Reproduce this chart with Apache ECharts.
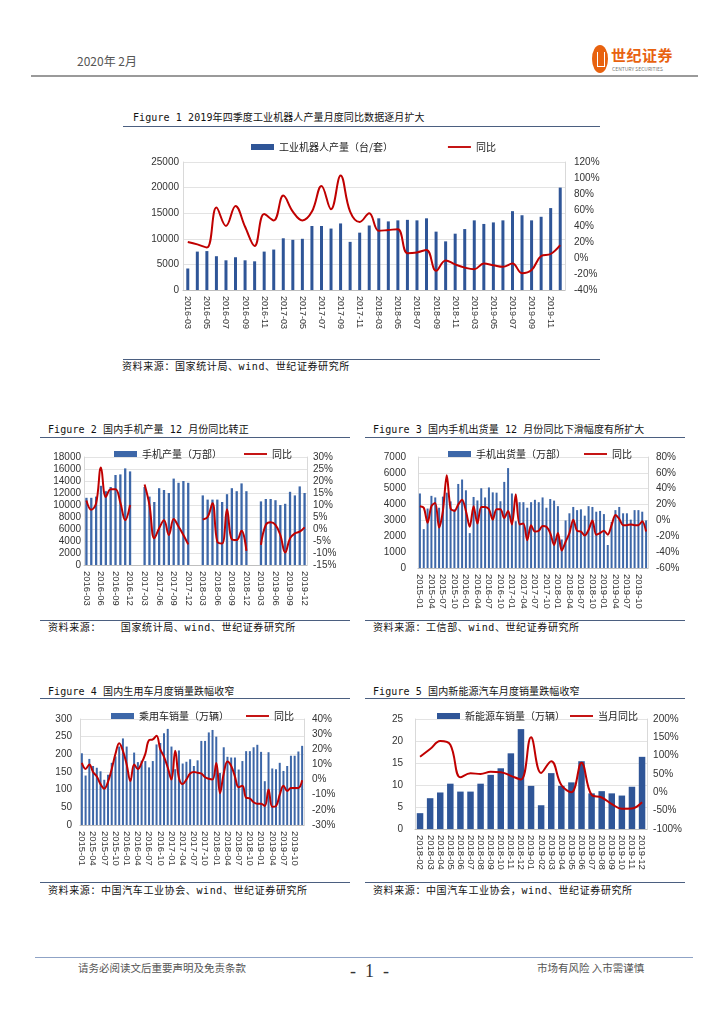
<!DOCTYPE html>
<html><head><meta charset="utf-8">
<script src="https://cdn.jsdelivr.net/npm/echarts@6/dist/echarts.min.js"></script>
<style>
body{margin:0;background:#fff;width:724px;height:1024px;position:relative;overflow:hidden;font-family:"Noto Sans CJK SC",sans-serif;}
.t{position:absolute;white-space:nowrap;line-height:1;}
.ttl{font-family:"DejaVu Sans Mono","Noto Sans CJK SC",monospace;font-size:10px;color:#111;letter-spacing:0.1px;}
.src{font-family:"DejaVu Sans Mono","Noto Sans CJK SC",monospace;font-size:10px;color:#111;letter-spacing:0.6px;}
.ln{position:absolute;height:0;}
.c{position:absolute;}
</style></head><body>

<!-- header -->
<div class="t" style="left:77px;top:55px;font-size:12px;color:#555;">2020年 2月</div>
<div style="position:absolute;left:592px;top:45px;width:16px;height:28px;border-radius:50%;background:#e8620f;"></div>
<div style="position:absolute;left:597px;top:52px;width:6px;height:14px;border:1px solid #fff;border-top:none;"></div>
<div class="t" style="left:611px;top:47px;font-size:15px;font-weight:bold;color:#e8620f;letter-spacing:0.5px;">世纪证券</div>
<div class="t" style="left:612px;top:66px;font-size:5px;color:#777;">CENTURY SECURITIES</div>
<div class="ln" style="left:31px;top:75px;width:667px;border-top:2px solid #9a9a9a;"></div>

<!-- figure 1 -->
<div class="t ttl" style="left:133px;top:113px;">Figure 1 2019年四季度工业机器人产量月度同比数据逐月扩大</div>
<div class="ln" style="left:123px;top:126px;width:477px;border-top:1.5px solid #4b5f80;"></div>
<div class="c" id="f1" style="left:125px;top:130px;width:480px;height:225px;"></div>
<div class="ln" style="left:123px;top:359px;width:477px;border-top:1.5px solid #4b5f80;"></div>
<div class="t src" style="left:122px;top:362px;">资料来源：国家统计局、wind、世纪证券研究所</div>

<!-- figure 2 -->
<div class="t ttl" style="left:48px;top:425px;">Figure 2 国内手机产量 12 月份同比转正</div>
<div class="ln" style="left:40px;top:437px;width:310px;border-top:1.5px solid #4b5f80;"></div>
<div class="c" id="f2" style="left:40px;top:440px;width:310px;height:178px;"></div>
<div class="ln" style="left:40px;top:620px;width:310px;border-top:1.5px solid #4b5f80;"></div>
<div class="t src" style="left:48px;top:623px;">资料来源：&nbsp;&nbsp;&nbsp;国家统计局、wind、世纪证券研究所</div>

<!-- figure 3 -->
<div class="t ttl" style="left:373px;top:425px;">Figure 3 国内手机出货量 12 月份同比下滑幅度有所扩大</div>
<div class="ln" style="left:365px;top:437px;width:320px;border-top:1.5px solid #4b5f80;"></div>
<div class="c" id="f3" style="left:365px;top:440px;width:320px;height:178px;"></div>
<div class="ln" style="left:365px;top:620px;width:320px;border-top:1.5px solid #4b5f80;"></div>
<div class="t src" style="left:373px;top:623px;">资料来源：工信部、wind、世纪证券研究所</div>

<!-- figure 4 -->
<div class="t ttl" style="left:48px;top:687px;">Figure 4 国内生用车月度销量跌幅收窄</div>
<div class="ln" style="left:40px;top:698px;width:310px;border-top:1.5px solid #4b5f80;"></div>
<div class="c" id="f4" style="left:40px;top:700px;width:310px;height:180px;"></div>
<div class="ln" style="left:40px;top:882px;width:310px;border-top:1.5px solid #4b5f80;"></div>
<div class="t src" style="left:48px;top:886px;">资料来源：中国汽车工业协会、wind、世纪证券研究所</div>

<!-- figure 5 -->
<div class="t ttl" style="left:373px;top:687px;">Figure 5 国内新能源汽车月度销量跌幅收窄</div>
<div class="ln" style="left:365px;top:698px;width:320px;border-top:1.5px solid #4b5f80;"></div>
<div class="c" id="f5" style="left:365px;top:700px;width:320px;height:180px;"></div>
<div class="ln" style="left:365px;top:882px;width:320px;border-top:1.5px solid #4b5f80;"></div>
<div class="t src" style="left:373px;top:886px;">资料来源：中国汽车工业协会，wind、世纪证券研究所</div>

<!-- footer -->
<div class="ln" style="left:35px;top:957px;width:658px;border-top:1.5px solid #8fa3c6;"></div>
<div class="t" style="left:78px;top:963px;font-size:10.5px;color:#555;">请务必阅读文后重要声明及免责条款</div>
<div class="t" style="left:350px;top:962px;font-size:18px;color:#333;font-family:'Liberation Serif',serif;white-space:pre;">-  1  -</div>
<div class="t" style="left:537px;top:963px;font-size:10.5px;color:#555;">市场有风险 入市需谨慎</div>

<script>
function months(y0, m0, y1, m1, skipJF) {
  const a = []; let y = y0, m = m0;
  while (y < y1 || (y === y1 && m <= m1)) {
    if (!(skipJF && m <= 2)) a.push(y + '-' + String(m).padStart(2, '0'));
    m++; if (m > 12) { m = 1; y++; }
  }
  return a;
}

// ---------- Figure 1 ----------
const cats1 = months(2016, 3, 2019, 12, true);
const robotOutput = [4200,7500,7600,6600,5800,6400,5800,5600,7500,7900,
  10100,9800,10000,12500,12500,12000,13000,9400,11200,12600,
  14000,13400,13600,13700,13600,14000,11400,9500,11000,11900,
  13600,12900,13200,13600,15400,14600,13600,14300,16000,20000];
const robotYoY = [20,17,13,63,40,65,39,15,55,47,
  78,58,47,58,90,61,103,58,45,56,
  34,35,36,6,7,10,-16,-3,-8,-12,
  -14,-7,-9,-11,-7,-19,-15,2.5,5,16];

// ---------- Figure 2 ----------
const cats2 = months(2016, 3, 2019, 12, false);
const phoneOutput = [11200,11200,11400,13200,12300,13000,15000,15100,16100,15600, null,null,
  13000,11400,10500,12800,12500,12000,14400,13700,14000,13700, null,null,
  11600,10900,10900,10900,10500,11800,12800,12300,13600,12300, null,null,
  10600,11000,11000,10800,10000,10200,12200,11600,13100,12000];
const phoneOutputYoY = [11.9,8,10.7,25.6,13.3,16.6,16.6,11,3.7,10, null,null,
  18.5,10,-3.9,0.3,3.6,-2.5,4.2,1,-2.5,-6.4, null,null,
  4,5,10.7,-5.3,-6,8.2,-4.3,-4.6,-0.7,-9.1, null,null,
  -6.6,1.7,2.8,1.7,-2.5,-9.8,-3.9,-1.8,-1.1,0.7];

// ---------- Figure 3 ----------
const cats3 = months(2015, 1, 2019, 12, false);
const phoneShip = [4700,2450,3750,4550,4450,3800,4500,4750,4200,3700,5300,5580,
  4900,2200,4480,4260,5030,4450,5080,4770,4750,4210,5430,6300,
  4700,2950,4150,4150,3800,4150,4300,4150,4450,3800,4350,4250,
  3900,1800,3000,3450,3850,3650,3700,3300,3900,3850,3550,3600,
  3400,1450,2900,3650,3850,3450,3450,3050,3650,3650,3550,3000];
const phoneShipYoY = [18,16,-3,18,22,-9,12,57,15,12,20,26,
  12,-8,18,-4,17,17,14,1,14,14,3,12,
  -5,33,-5,-4,-25,-6,-14,-13,-7,-8,-16,-31,
  -16,-38,-27,-16,1,-13,-14,-19,-12,0,-18,-16,
  -13,-18,-6,7,2,-6,-6,-5,-6,-6,-1,-14];

// ---------- Figure 4 ----------
const cats4 = months(2015, 1, 2019, 12, false);
const carSales = [203,140,187,167,162,152,128,142,176,194,222,245,
  222,133,205,178,182,181,163,181,228,232,260,272,
  222,158,211,174,179,186,167,183,238,238,262,269,
  250,147,220,193,191,191,157,181,209,209,220,227,
  207,124,206,160,158,176,153,167,196,196,208,224];
const carSalesYoY = [11,7,10,5,2,-3,-6,-1.5,7,17,24,19,
  10,-1,10,7,11,17,26,26.5,29,20,15,8,
  0,19,1,-3,0,4,5,4.5,4,1.5,0.5,0,
  11,-9,4,12,9,2,-5,-4,-12,-12.5,-15,-16,
  -16,-17.5,-6.5,-18,-17.5,-10,-4,-7.5,-5.5,-5.5,-5.5,-0.5];

// ---------- Figure 5 ----------
const cats5 = months(2018, 2, 2019, 12, false);
const nevSales = [3.6,7.0,8.3,10.3,8.5,8.5,10.3,12.3,13.8,17.2,22.7,9.8,5.4,12.7,9.8,10.6,15.4,8.1,8.6,8.1,7.6,9.6,16.4];
const nevYoY = [97,118,140,130,41,52,50,56,55,45,35,150,53,85,20,0,81,-7,-14,-32,-45,-44,-27];

const LINE_ICON = 'path://M0,0 L40,0 L40,3.2 L0,3.2 Z';

function build(id, o) {
  const chart = echarts.init(document.getElementById(id), null, {renderer: 'canvas'});
  chart.setOption({
    animation: false,
    textStyle: {fontFamily: 'Liberation Sans, Arial, Noto Sans CJK SC'},
    legend: {
      top: o.legendTop, left: o.legendLeft, itemGap: o.legendGap,
      itemWidth: 23, itemHeight: 6,
      textStyle: {fontSize: 10, color: '#222', fontFamily: 'Noto Sans CJK SC'},
      data: [{name: o.barName, icon: 'rect'}, {name: o.lineName, icon: LINE_ICON}]
    },
    grid: {left: o.gl, right: o.gr, top: o.gt, height: o.gh},
    xAxis: {
      type: 'category', data: o.cats, boundaryGap: true,
      axisLine: {lineStyle: {color: '#bfbfbf'}}, axisTick: {show: false},
      axisLabel: {rotate: -90, interval: o.labelInterval, fontSize: o.xfs, color: '#333', margin: 6}
    },
    yAxis: [
      {type: 'value', min: o.lmin, max: o.lmax, interval: o.lint,
       axisLine: {show: true, lineStyle: {color: '#d9d9d9'}}, axisTick: {show: false},
       splitLine: {lineStyle: {color: '#e3e3e3'}},
       axisLabel: {fontSize: o.yfs, color: '#333', margin: o.lmargin, formatter: v => String(v)}},
      {type: 'value', position: 'right', min: o.rmin, max: o.rmax, interval: o.rint,
       axisLine: {show: true, lineStyle: {color: '#d9d9d9'}}, axisTick: {show: false},
       splitLine: {show: false},
       axisLabel: {fontSize: o.yfs, color: '#333', margin: o.rmargin, formatter: v => v + '%'}}
    ],
    series: [
      {name: o.barName, type: 'bar', data: o.bars, barWidth: o.bw, itemStyle: {color: o.barColor}},
      {name: o.lineName, type: 'line', yAxisIndex: 1, data: o.yoy, smooth: o.smooth, symbol: 'none',
       connectNulls: false, lineStyle: {color: '#c00000', width: o.lw}, itemStyle: {color: '#c00000'}}
    ]
  });
}

build('f1', {cats: cats1, bars: robotOutput, yoy: robotYoY, barName: '工业机器人产量（台/套）', lineName: '同比',
  legendTop: 7, legendLeft: 121, legendGap: 55, gl: 58, gr: 40, gt: 32, gh: 128,
  labelInterval: 1, xfs: 9, yfs: 10, lmin: 0, lmax: 25000, lint: 5000, rmin: -40, rmax: 120, rint: 20,
  lmargin: 4, rmargin: 9, bw: 3, barColor: '#2f5597', smooth: 0.4, lw: 2});

build('f2', {cats: cats2, bars: phoneOutput, yoy: phoneOutputYoY, barName: '手机产量（万部）', lineName: '同比',
  legendTop: 4, legendLeft: 69, legendGap: 22, gl: 44, gr: 43, gt: 17, gh: 108,
  labelInterval: 2, xfs: 9.5, yfs: 10, lmin: 0, lmax: 18000, lint: 2000, rmin: -15, rmax: 30, rint: 5,
  lmargin: 3, rmargin: 6, bw: 2.3, barColor: '#3d67a8', smooth: 0.4, lw: 2});

build('f3', {cats: cats3, bars: phoneShip, yoy: phoneShipYoY, barName: '手机出货量（万部）', lineName: '同比',
  legendTop: 4, legendLeft: 78, legendGap: 18, gl: 53, gr: 37, gt: 17, gh: 111,
  labelInterval: 2, xfs: 9.5, yfs: 10, lmin: 0, lmax: 7000, lint: 1000, rmin: -60, rmax: 80, rint: 20,
  lmargin: 12, rmargin: 8, bw: 2, barColor: '#3d67a8', smooth: 0.3, lw: 2});

build('f4', {cats: cats4, bars: carSales, yoy: carSalesYoY, barName: '乘用车销量（万辆）', lineName: '同比',
  legendTop: 6, legendLeft: 66, legendGap: 17, gl: 40, gr: 46, gt: 19, gh: 106,
  labelInterval: 2, xfs: 9.5, yfs: 10, lmin: 0, lmax: 300, lint: 50, rmin: -30, rmax: 40, rint: 10,
  lmargin: 8, rmargin: 8, bw: 2, barColor: '#3d67a8', smooth: 0.4, lw: 2});

build('f5', {cats: cats5, bars: nevSales, yoy: nevYoY, barName: '新能源车销量（万辆）', lineName: '当月同比',
  legendTop: 6, legendLeft: 67, legendGap: 5, gl: 50, gr: 37, gt: 19, gh: 110,
  labelInterval: 0, xfs: 9.5, yfs: 10, lmin: 0, lmax: 25, lint: 5, rmin: -100, rmax: 200, rint: 50,
  lmargin: 12, rmargin: 6, bw: 6.5, barColor: '#2f5597', smooth: 0.4, lw: 2});
</script>
</body></html>
